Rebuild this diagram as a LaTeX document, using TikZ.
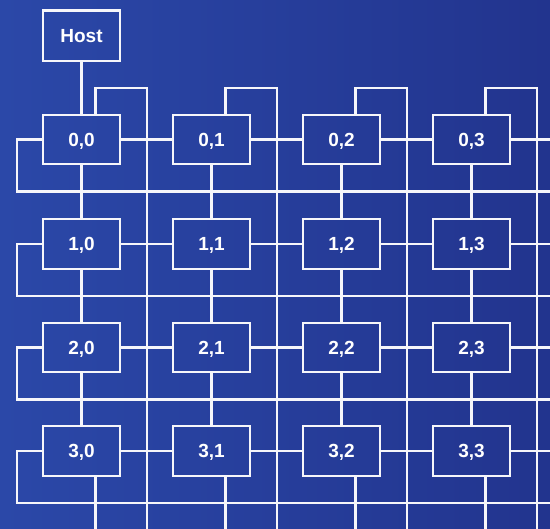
\documentclass[tikz,border=0pt]{standalone}
\usepackage{fontspec}
\setmainfont{Liberation Sans}
\definecolor{bgL}{HTML}{2B48A8}
\definecolor{bgR}{HTML}{22348E}
\definecolor{wirecol}{HTML}{F6F6FA}
\begin{document}
\begin{tikzpicture}[x=1pt,y=-1pt,
  cell/.style={draw=wirecol, line width=2.2pt, minimum width=77pt, minimum height=49.5pt,
    inner sep=0pt, text=white, text height=13.6pt, text depth=0pt,
    font=\fontsize{19}{19}\selectfont\bfseries},
  link/.style={draw=wirecol, line width=2.2pt}]
\shade[left color=bgL, right color=bgR] (0,0) rectangle (550,529);
\useasboundingbox (0,0) rectangle (550,529);
\coordinate (top) at (0,88);
\coordinate (bot) at (0,529);
\coordinate (lft) at (17,0);
\coordinate (rgt) at (550,0);
\node[cell, minimum height=50.5pt] (host) at (81.5,35.8) {Host};
\foreach \r/\y in {0/139.5,1/244,2/347.5,3/451}{
  \coordinate (h\r) at (0,\y+52);
  \foreach \c/\x in {0/81.5,1/211.5,2/341.5,3/471.5}{
    \node[cell] (b\r\c) at (\x,\y) {\r,\c};
  }
}
\foreach \c/\x in {0/81.5,1/211.5,2/341.5,3/471.5}{
  \coordinate (v\c) at (\x+65.2,0);
}
% host link
\draw[link] (host) -- (b00);
% horizontal neighbours
\foreach \r in {0,1,2,3}{
  \draw[link] (b\r0) -- (b\r1);
  \draw[link] (b\r1) -- (b\r2);
  \draw[link] (b\r2) -- (b\r3);
  \draw[link] (b\r3.east) -- (b\r3.east -| rgt);
  \draw[link] (b\r0.west) -| (lft |- h\r) -- (rgt |- h\r);
}
% vertical neighbours
\foreach \c in {0,1,2,3}{
  \draw[link] (b0\c) -- (b1\c);
  \draw[link] (b1\c) -- (b2\c);
  \draw[link] (b2\c) -- (b3\c);
  \draw[link] ([xshift=14pt]b0\c.north) |- (v\c |- top) -- (v\c |- bot);
  \draw[link] ([xshift=14pt]b3\c.south) -- ([xshift=14pt]b3\c.south |- bot);
}
\end{tikzpicture}
\end{document}
